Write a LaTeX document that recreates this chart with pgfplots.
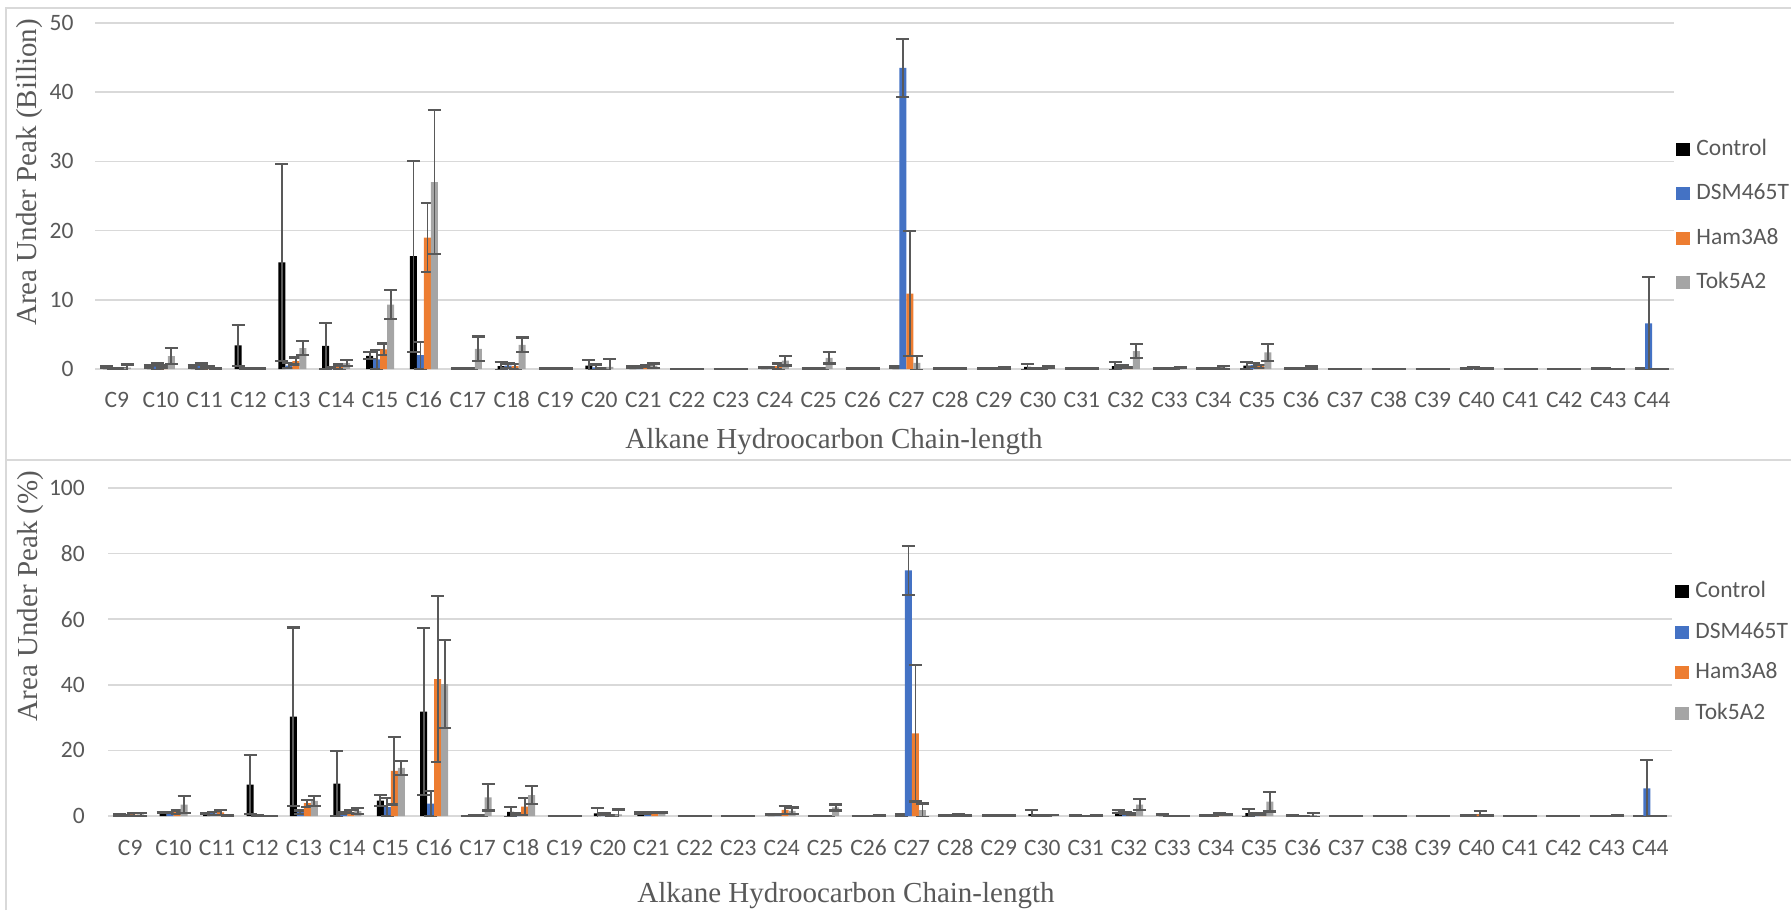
\documentclass[border=0pt]{standalone}
\usepackage{fontspec}
\setmainfont{Carlito}
\newfontfamily\tnr{Liberation Serif}
\usepackage{pgfplots}
\usepackage{pgfplotstable}
\pgfplotsset{compat=1.18}
\definecolor{ctrl}{HTML}{000000}
\definecolor{dsm}{HTML}{4472C4}
\definecolor{ham}{HTML}{ED7D31}
\definecolor{tok}{HTML}{A5A5A5}
\definecolor{txt}{HTML}{595959}
\definecolor{gridc}{HTML}{D9D9D9}
\definecolor{errc}{HTML}{595959}

% area under peak, billions (value, error) per strain
\pgfplotstableread{
x c ce d de h he t te
0 0.25 0.1 0.1 0.05 0.1 0.05 0.2 0.45
1 0.3 0.2 0.35 0.5 0.35 0.15 1.85 1.15
2 0.3 0.2 0.4 0.4 0.3 0.1 0.1 0.05
3 3.4 3.0 0.05 0.05 0.05 0.02 0.05 0.02
4 15.4 14.2 0.5 0.35 1.15 0.5 3.0 1.0
5 3.35 3.35 0.2 0.1 0.3 0.35 0.85 0.4
6 1.9 0.5 1.4 1.4 2.85 0.85 9.3 2.1
7 16.3 13.8 2.0 1.95 19.0 5.0 27.0 10.4
8 0.05 0.02 0.05 0.02 0.05 0.02 2.9 1.8
9 0.4 0.6 0.5 0.3 0.4 0.35 3.5 1.05
10 0.05 0.02 0.05 0.02 0.05 0.02 0.05 0.02
11 0.5 0.8 0.25 0.4 0.1 0.05 0.3 1.2
12 0.3 0.1 0.3 0.1 0.4 0.1 0.5 0.3
13 0.02 0 0.02 0 0.02 0 0.02 0
14 0.02 0 0.02 0 0.02 0 0.02 0
15 0.2 0.05 0.2 0.1 0.4 0.4 1.2 0.7
16 0.05 0.02 0.05 0.02 0.05 0.02 1.6 0.8
17 0.05 0.02 0.05 0.02 0.05 0.02 0.05 0.02
18 0.3 0.1 43.5 4.15 10.9 9.0 0.9 1.0
19 0.1 0.05 0.1 0.05 0.1 0.05 0.1 0.05
20 0.1 0.05 0.1 0.05 0.1 0.05 0.15 0.1
21 0.3 0.4 0.05 0.05 0.1 0.05 0.3 0.15
22 0.05 0.02 0.05 0.02 0.05 0.02 0.05 0.02
23 0.4 0.6 0.3 0.2 0.2 0.1 2.6 1.0
24 0.05 0.02 0.05 0.02 0.05 0.02 0.2 0.1
25 0.05 0.02 0.05 0.02 0.1 0.05 0.2 0.2
26 0.5 0.5 0.6 0.3 0.4 0.2 2.4 1.2
27 0.05 0.02 0.05 0.02 0.05 0.02 0.15 0.2
28 0.02 0 0.02 0 0.02 0 0.02 0
29 0.02 0 0.02 0 0.02 0 0.02 0
30 0.02 0 0.02 0 0.02 0 0.02 0
31 0.1 0.05 0.2 0.1 0.1 0.05 0.1 0.05
32 0.02 0 0.02 0 0.02 0 0.02 0
33 0.02 0 0.02 0 0.02 0 0.02 0
34 0.1 0.05 0.1 0.02 0.02 0 0.02 0
35 0.05 0.02 6.6 6.75 0 0 0 0
}\billion

% area under peak, percent
\pgfplotstableread{
x c ce d de h he t te
0 0.3 0.2 0.2 0.1 0.4 0.5 0.5 0.5
1 1.0 0.2 1.0 0.2 1.2 0.5 3.5 2.65
2 0.8 0.2 0.8 0.4 1.1 0.8 0.1 0.05
3 9.6 9.0 0.2 0.1 0.05 0.02 0.05 0.02
4 30.3 27.2 1.2 0.5 3.9 1.1 4.6 1.5
5 9.9 10.0 0.8 0.3 1.3 0.5 1.5 1.0
6 4.7 1.6 2.7 2.8 13.8 10.3 14.7 2.15
7 31.8 25.4 3.8 3.75 41.7 25.3 40.2 13.4
8 0.05 0.02 0.1 0.05 0.2 0.1 5.7 4.0
9 1.3 1.5 0.7 0.3 2.9 2.5 6.4 2.85
10 0.05 0.02 0.05 0.02 0.05 0.02 0.05 0.02
11 0.8 1.7 0.5 0.3 0.2 0.1 0.5 1.5
12 0.9 0.2 0.9 0.2 1.0 0.2 1.1 0.2
13 0.02 0 0.02 0 0.02 0 0.02 0
14 0.02 0 0.02 0 0.02 0 0.02 0
15 0.4 0.1 0.4 0.1 1.9 1.2 1.6 1.0
16 0.05 0.02 0.05 0.02 0.05 0.02 2.6 0.9
17 0.05 0.02 0.05 0.02 0.05 0.02 0.15 0.05
18 0.3 0.2 74.9 7.4 25.2 20.8 1.8 2.0
19 0.1 0.05 0.2 0.1 0.3 0.2 0.2 0.1
20 0.1 0.05 0.1 0.05 0.1 0.05 0.2 0.1
21 0.6 1.2 0.1 0.05 0.2 0.1 0.3 0.1
22 0.1 0.05 0.05 0.02 0.05 0.02 0.2 0.1
23 1.3 0.5 0.8 0.3 0.6 0.3 3.5 1.6
24 0.4 0.1 0.05 0.02 0.05 0.02 0.05 0.02
25 0.1 0.05 0.2 0.1 0.6 0.3 0.5 0.2
26 0.9 1.2 0.7 0.3 0.7 0.3 4.4 3.0
27 0.1 0.05 0.05 0.02 0.05 0.02 0.3 0.5
28 0.02 0 0.02 0 0.02 0 0.02 0
29 0.02 0 0.02 0 0.02 0 0.02 0
30 0.02 0 0.02 0 0.02 0 0.02 0
31 0.1 0.05 0.2 0.1 0.5 1.0 0.1 0.05
32 0.02 0 0.02 0 0.02 0 0.02 0
33 0.02 0 0.02 0 0.02 0 0.02 0
34 0.05 0.02 0.05 0.02 0.05 0.02 0.2 0.05
35 0.05 0.02 8.4 8.7 0 0 0 0
}\pct

\pgfplotsset{
  excel/.style={
    scale only axis, ybar=0pt, bar width=3.5pt,
    enlargelimits=false, xmin=-0.5, xmax=35.5, ymin=0,
    xtick=data,
    xticklabels={C9,C10,C11,C12,C13,C14,C15,C16,C17,C18,C19,C20,C21,C22,C23,C24,C25,C26,
      C27,C28,C29,C30,C31,C32,C33,C34,C35,C36,C37,C38,C39,C40,C41,C42,C43,C44},
    major tick length=0pt, axis line style={draw=none},
    ymajorgrids, grid style={gridc, line width=0.75pt},
    tick label style={font=\fontsize{11.75}{14}\selectfont, text=txt},
    /pgf/number format/assume math mode=true,
    label style={font=\tnr\fontsize{14.5}{17}\selectfont, text=txt},
    legend cell align=left,
    legend image code/.code={\fill[##1] (0pt,-3.25pt) rectangle (7pt,3.25pt);},
  },
  eb/.style={error bars/.cd, y dir=both, y explicit,
    error bar style={draw=errc, line width=0.95pt},
    error mark options={draw=errc, line width=1.1pt, mark size=3.25pt, rotate=90}},
}

\begin{document}
\begin{tikzpicture}
\path[use as bounding box] (0,0) rectangle (895.5pt,-455pt);
\draw[gridc, line width=0.6pt] (3pt,-455pt) -- (3pt,-4pt) -- (896pt,-4pt)
  (3pt,-230pt) -- (896pt,-230pt);

\begin{axis}[excel,
  at={(47.5pt,-184.5pt)}, anchor=south west,
  width=789.5pt, height=173pt,
  ymax=50, ytick={0,10,...,50},
  xticklabel style={yshift=-7.9pt},
  yticklabel style={xshift=-7.25pt},
  xlabel={Alkane Hydroocarbon Chain-length},
  xlabel style={at={(axis description cs:0.468,0)}, anchor=center, yshift=-36.5pt},
  ylabel={Area Under Peak (Billion)},
  ylabel style={at={(axis description cs:-0.0412,0.568)}, anchor=center},
  legend style={at={(axis description cs:1,0.442)}, anchor=west, xshift=1pt,
    draw=none, fill=none, inner sep=0pt, row sep=12.3pt, column sep=3pt,
    nodes={inner sep=0pt, text height=8pt, text depth=2pt, text=txt,
      font=\fontsize{11.75}{14}\selectfont}},
]
\addplot[fill=ctrl, draw=none, eb] table[x=x, y=c, y error=ce] {\billion};
\addlegendentry{Control}
\addplot[fill=dsm, draw=none, eb] table[x=x, y=d, y error=de] {\billion};
\addlegendentry{DSM465T}
\addplot[fill=ham, draw=none, eb] table[x=x, y=h, y error=he] {\billion};
\addlegendentry{Ham3A8}
\addplot[fill=tok, draw=none, eb] table[x=x, y=t, y error=te] {\billion};
\addlegendentry{Tok5A2}
\end{axis}

\begin{axis}[excel,
  at={(54.25pt,-408pt)}, anchor=south west,
  width=781.75pt, height=164pt,
  ymax=100, ytick={0,20,...,100},
  xticklabel style={yshift=-8.35pt},
  yticklabel style={xshift=-8.35pt},
  xlabel={Alkane Hydroocarbon Chain-length},
  xlabel style={at={(axis description cs:0.4717,0)}, anchor=center, yshift=-40pt},
  ylabel={Area Under Peak (\%)},
  ylabel style={at={(axis description cs:-0.0499,0.671)}, anchor=center},
  legend style={at={(axis description cs:1,0.4985)}, anchor=west, xshift=1.5pt,
    draw=none, fill=none, inner sep=0pt, row sep=10.2pt, column sep=3pt,
    nodes={inner sep=0pt, text height=8pt, text depth=2pt, text=txt,
      font=\fontsize{11.75}{14}\selectfont}},
]
\addplot[fill=ctrl, draw=none, eb] table[x=x, y=c, y error=ce] {\pct};
\addlegendentry{Control}
\addplot[fill=dsm, draw=none, eb] table[x=x, y=d, y error=de] {\pct};
\addlegendentry{DSM465T}
\addplot[fill=ham, draw=none, eb] table[x=x, y=h, y error=he] {\pct};
\addlegendentry{Ham3A8}
\addplot[fill=tok, draw=none, eb] table[x=x, y=t, y error=te] {\pct};
\addlegendentry{Tok5A2}
\end{axis}
\end{tikzpicture}
\end{document}
